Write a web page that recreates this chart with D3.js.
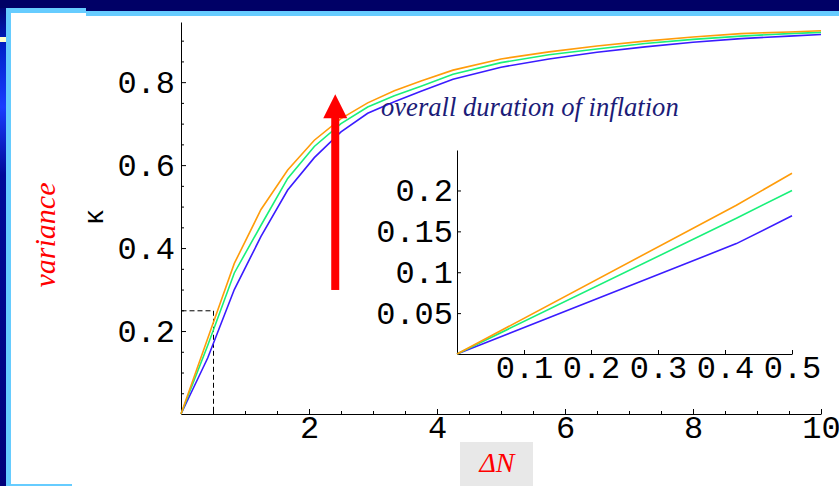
<!DOCTYPE html>
<html>
<head>
<meta charset="utf-8">
<script src="https://cdn.jsdelivr.net/npm/d3@7"></script>
<style>
body { margin: 0; background: white; }
svg { display: block; }
</style>
</head>
<body>
<script>
//Width and height
var w = 839;
var h = 486;

// main plot: kappa against ΔN, three curves
var dN      = [0, 0.417, 0.833, 1.25, 1.667, 2.083, 2.5, 2.917, 3.333, 3.75, 4.25, 5, 5.75, 6.5, 7.25, 8, 8.75, 9.5, 10];
var kOrange = [0, 0.182, 0.363, 0.493, 0.588, 0.660, 0.712, 0.750, 0.779, 0.803, 0.829, 0.856, 0.873, 0.887, 0.899, 0.909, 0.917, 0.921, 0.924];
var kGreen  = [0, 0.165, 0.340, 0.455, 0.568, 0.645, 0.700, 0.740, 0.767, 0.790, 0.819, 0.847, 0.866, 0.880, 0.893, 0.903, 0.911, 0.917, 0.920];
var kBlue   = [0, 0.135, 0.300, 0.428, 0.540, 0.618, 0.680, 0.725, 0.753, 0.778, 0.807, 0.836, 0.856, 0.872, 0.885, 0.896, 0.905, 0.911, 0.915];

// inset, small ΔN
var dNInset      = [0, 0.417, 0.5];
var kOrangeInset = [0, 0.182, 0.221];
var kGreenInset  = [0, 0.166, 0.200];
var kBlueInset   = [0, 0.135, 0.169];

var xTicks = [2, 4, 6, 8, 10];
var xTickLabels = ["2", "4", "6", "8", "10"];
var yTicks = [0.2, 0.4, 0.6, 0.8];
var yTickLabels = ["0.2", "0.4", "0.6", "0.8"];
var insetXTicks = [0.1, 0.2, 0.3, 0.4, 0.5];
var insetXTickLabels = ["0.1", "0.2", "0.3", "0.4", "0.5"];
var insetYTicks = [0.05, 0.1, 0.15, 0.2];
var insetYTickLabels = ["0.05", "0.1", "0.15", "0.2"];

var colors = ["#3a1cff", "#19f07a", "#ff9c0a"];   // blue, green, orange
var mono = "'Liberation Mono', 'DejaVu Sans Mono', monospace";
var serif = "'Liberation Serif', 'DejaVu Serif', serif";

//Create SVG element
var svg = d3.select("body")
            .append("svg")
            .attr("width", w)
            .attr("height", h)
            .style("background", "white");

// slide frame
var grad = svg.append("defs").append("linearGradient")
    .attr("id", "side").attr("x1", 0).attr("y1", 0).attr("x2", 0).attr("y2", 1);
[[0, "#000066"], [0.1, "#0022cc"], [0.22, "#1a3cff"], [0.36, "#000a99"], [1, "#00007a"]].forEach(function(s) {
    grad.append("stop").attr("offset", s[0]).attr("stop-color", s[1]);
});
svg.append("rect").attr("x", 0).attr("y", 0).attr("width", w).attr("height", 11).attr("fill", "#000066");
svg.append("rect").attr("x", 0).attr("y", 0).attr("width", 6).attr("height", h).attr("fill", "url(#side)");
svg.append("rect").attr("x", 0).attr("y", 0).attr("width", 6).attr("height", 8).attr("fill", "#000066");
svg.append("rect").attr("x", 0).attr("y", 37).attr("width", 6).attr("height", 5).attr("fill", "#ffffcc");
svg.append("rect").attr("x", 6).attr("y", 8).attr("width", 80).attr("height", 5).attr("fill", "#66ccff");
svg.append("rect").attr("x", 86).attr("y", 11).attr("width", w - 86).attr("height", 5).attr("fill", "#66ccff");
svg.append("rect").attr("x", 6).attr("y", 8).attr("width", 5).attr("height", h - 8).attr("fill", "#66ccff");
svg.append("rect").attr("x", 11).attr("y", 484).attr("width", 61).attr("height", 2).attr("fill", "#66ccff");

// scales
var x = d3.scaleLinear().domain([0, 10]).range([181, 821]);
var y = d3.scaleLinear().domain([0, 0.945]).range([414, 22]);
var xi = d3.scaleLinear().domain([0, 0.5]).range([457, 792]);
var yi = d3.scaleLinear().domain([0, 0.2495]).range([354, 150]);

function styleAxis(g) {
    g.attr("font-family", mono).attr("font-size", 32).attr("fill", "black");
    g.selectAll("text").attr("fill", "black");
    g.selectAll("line").attr("stroke", "black");
    g.select(".domain").attr("stroke", "black");
}

// main axes, minor ticks first
svg.append("g")
   .attr("transform", "translate(0," + y(0) + ")")
   .call(d3.axisBottom(x).tickValues(d3.range(0.5, 10, 0.5).filter(function(d) { return d % 2 != 0; }))
          .tickFormat("").tickSizeInner(-3).tickSizeOuter(0))
   .call(function(g) { g.select(".domain").remove(); g.selectAll("line").attr("stroke", "black"); });

svg.append("g")
   .attr("transform", "translate(" + x(0) + ",0)")
   .call(d3.axisLeft(y).tickValues(d3.range(1, 19).map(function(i) { return i * 0.05; }).filter(function(d, i) { return (i + 1) % 4 != 0; }))
          .tickFormat("").tickSizeInner(-3).tickSizeOuter(0))
   .call(function(g) { g.select(".domain").remove(); g.selectAll("line").attr("stroke", "black"); });

var gx = svg.append("g")
   .attr("transform", "translate(0," + y(0) + ")")
   .call(d3.axisBottom(x).tickValues(xTicks).tickFormat(function(d, i) { return xTickLabels[i]; })
          .tickSizeInner(-5).tickSizeOuter(0).tickPadding(0))
   .call(styleAxis);
gx.selectAll("text").attr("dy", null).attr("y", 24);

svg.append("g")
   .attr("transform", "translate(" + x(0) + ",0)")
   .call(d3.axisLeft(y).tickValues(yTicks).tickFormat(function(d, i) { return yTickLabels[i]; })
          .tickSizeInner(-5).tickSizeOuter(0).tickPadding(6))
   .call(styleAxis);

// dashed guide at ΔN = 0.5
svg.append("path")
   .attr("d", "M" + x(0) + "," + y(0.25) + "H" + x(0.5) + "V" + y(0))
   .attr("transform", "translate(0.5,0.5)")
   .attr("fill", "none")
   .attr("stroke", "black")
   .attr("stroke-dasharray", "5,3");

// curves
var series = [kBlue, kGreen, kOrange];
var line = d3.line()
   .x(function(d, i) { return x(dN[i]); })
   .y(function(d) { return y(d); });

svg.selectAll("path.curve")
   .data(series)
   .enter()
   .append("path")
   .attr("class", "curve")
   .attr("d", line)
   .attr("fill", "none")
   .attr("stroke", function(d, i) { return colors[i]; })
   .attr("stroke-width", 1.6);

// inset
var gxi = svg.append("g")
   .attr("transform", "translate(0," + yi(0) + ")")
   .call(d3.axisBottom(xi).tickValues(insetXTicks).tickFormat(function(d, i) { return insetXTickLabels[i]; })
          .tickSizeInner(-4).tickSizeOuter(0).tickPadding(0))
   .call(styleAxis);
gxi.selectAll("text").attr("dy", null).attr("y", 24);

svg.append("g")
   .attr("transform", "translate(" + xi(0) + ",0)")
   .call(d3.axisLeft(yi).tickValues(insetYTicks).tickFormat(function(d, i) { return insetYTickLabels[i]; })
          .tickSizeInner(-4).tickSizeOuter(0).tickPadding(4))
   .call(styleAxis);

var insetSeries = [kBlueInset, kGreenInset, kOrangeInset];
var lineInset = d3.line()
   .x(function(d, i) { return xi(dNInset[i]); })
   .y(function(d) { return yi(d); });

svg.selectAll("path.inset")
   .data(insetSeries)
   .enter()
   .append("path")
   .attr("class", "inset")
   .attr("d", lineInset)
   .attr("fill", "none")
   .attr("stroke", function(d, i) { return colors[i]; })
   .attr("stroke-width", 1.6);

// red arrow
var ax = x(2.41);
svg.append("rect")
   .attr("x", ax - 4).attr("y", y(0.715))
   .attr("width", 8).attr("height", y(0.299) - y(0.715))
   .attr("fill", "red");
svg.append("path")
   .attr("d", "M" + ax + "," + y(0.771) + "L" + (ax + 12) + "," + y(0.713) + "L" + (ax - 12) + "," + y(0.713) + "Z")
   .attr("fill", "red");

// texts
svg.append("text")
   .text("overall duration of inflation")
   .attr("x", 381).attr("y", 116)
   .attr("font-family", serif).attr("font-style", "italic")
   .attr("font-size", 26.6).attr("fill", "#1c1c78");

svg.append("text")
   .text("variance")
   .attr("transform", "translate(55,235) rotate(-90)")
   .attr("text-anchor", "middle")
   .attr("font-family", serif).attr("font-style", "italic")
   .attr("font-size", 30).attr("fill", "red");

svg.append("text")
   .text("κ")
   .attr("transform", "translate(103,217) rotate(-90)")
   .attr("text-anchor", "middle")
   .attr("font-family", mono)
   .attr("font-size", 28).attr("fill", "black");

svg.append("rect")
   .attr("x", 460).attr("y", 442).attr("width", 73).attr("height", 44)
   .attr("fill", "#e8e8e8");
svg.append("text")
   .text("ΔN")
   .attr("x", 497).attr("y", 472)
   .attr("text-anchor", "middle")
   .attr("font-family", serif).attr("font-style", "italic")
   .attr("font-size", 28).attr("fill", "red");
</script>
</body>
</html>
